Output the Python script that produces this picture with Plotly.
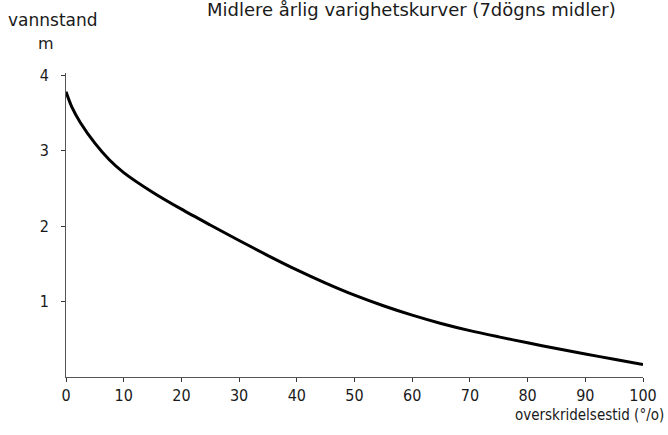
import plotly.graph_objects as go

# Mean annual duration curve (7-day means)
overskridelse = [0, 1, 2.5, 5, 7.5, 10, 15, 20, 25, 30, 35, 40, 45, 50,
                 55, 60, 65, 70, 75, 80, 85, 90, 95, 100]
vannstand = [3.78, 3.58, 3.37, 3.10, 2.88, 2.71, 2.45, 2.225, 2.015, 1.81,
             1.61, 1.42, 1.245, 1.085, 0.945, 0.82, 0.71, 0.615, 0.532, 0.453,
             0.378, 0.305, 0.235, 0.165]

x_ticks = [0, 10, 20, 30, 40, 50, 60, 70, 80, 90, 100]
y_ticks = [1, 2, 3, 4]

NARROW = "DejaVu Sans Condensed, DejaVu Sans, sans-serif"
WIDE = "DejaVu Sans, sans-serif"
INK = "#1a1a1a"

fig = go.Figure()
fig.add_trace(go.Scatter(
    x=overskridelse, y=vannstand, mode="lines",
    line=dict(color="#000000", width=3, shape="spline", smoothing=0.8),
    hoverinfo="skip", showlegend=False,
))

fig.update_layout(
    width=668, height=435,
    margin=dict(l=66, r=25, t=73, b=58),
    paper_bgcolor="white", plot_bgcolor="white",
    font=dict(family=NARROW, size=16, color=INK),
    xaxis=dict(
        range=[0, 100], tickvals=x_ticks, ticktext=[str(v) for v in x_ticks],
        showgrid=False, zeroline=False, showline=True, linecolor="#555555",
        linewidth=1, ticks="outside", ticklen=4, tickcolor="#333333",
        tickfont=dict(family=NARROW, size=16, color=INK),
    ),
    yaxis=dict(
        range=[0, 4.03], tickvals=y_ticks, ticktext=[str(v) for v in y_ticks],
        showgrid=False, zeroline=False, showline=True, linecolor="#555555",
        linewidth=1, ticks="outside", ticklen=4, tickcolor="#333333",
        tickfont=dict(family=NARROW, size=16, color=INK),
        ticklabelstandoff=9,
    ),
    annotations=[
        dict(text="Midlere årlig varighetskurver (7dögns midler)",
             xref="paper", yref="paper", x=411, y=9,
             showarrow=False, font=dict(family=WIDE, size=18)),
        dict(text="vannstand", xref="paper", yref="paper",
             x=6, y=20, showarrow=False, font=dict(family=WIDE, size=17)),
        dict(text="m", xref="paper", yref="paper",
             x=46, y=43, showarrow=False, font=dict(family=WIDE, size=16)),
        dict(text="overskridelsestid (°/o)", xref="paper", yref="paper",
             x=666, y=415, showarrow=False, font=dict(family=NARROW, size=15)),
    ],
)

# Place the free-standing labels in pixel terms on the page
W, H = 668, 435
pw, ph = W - 66 - 25, H - 73 - 58
anchors = ["center", "left", "center", "right"]
for ann, xa in zip(fig.layout.annotations, anchors):
    px, py = ann.x, ann.y
    ann.x = (px - 66) / pw
    ann.y = (H - 58 - py) / ph
    ann.xanchor = xa
    ann.yanchor = "middle"

fig.write_html("out.html")
